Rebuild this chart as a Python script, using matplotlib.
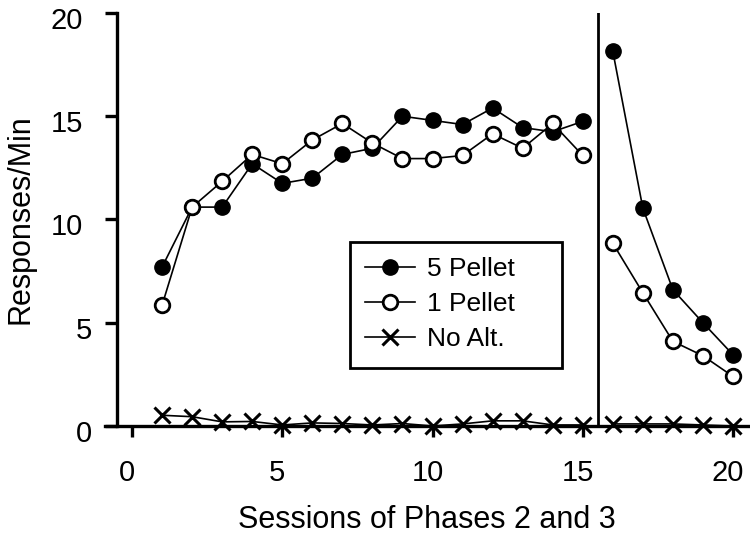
import matplotlib
matplotlib.use("Agg")
import matplotlib.pyplot as plt
from matplotlib.patches import Rectangle
from matplotlib.transforms import ScaledTranslation

plt.rcParams['font.family'] = ['Liberation Sans', 'DejaVu Sans']

# sessions
phase2 = [1, 2, 3, 4, 5, 6, 7, 8, 9, 10, 11, 12, 13, 14, 15]
phase3 = [16, 17, 18, 19, 20]

# responses/min
five_p2 = [7.7, 10.6, 10.6, 12.7, 11.75, 12.0, 13.15, 13.45, 15.0, 14.8, 14.6, 15.4, 14.45, 14.25, 14.75]
five_p3 = [18.15, 10.55, 6.6, 5.0, 3.45]
one_p2 = [5.85, 10.6, 11.85, 13.15, 12.7, 13.85, 14.65, 13.7, 12.95, 12.95, 13.1, 14.15, 13.45, 14.65, 13.1]
one_p3 = [8.85, 6.45, 4.1, 3.4, 2.4]
noalt_p2 = [0.52, 0.45, 0.2, 0.22, 0.05, 0.15, 0.12, 0.05, 0.12, 0.0, 0.1, 0.25, 0.25, 0.05, 0.05]
noalt_p3 = [0.1, 0.1, 0.1, 0.05, 0.0]

fig = plt.figure(figsize=(7.5, 5.34), dpi=100)
ax = fig.add_axes([105/750, 1-426/534, (748-105)/750, (426-13)/534])

lw = 1.2
for xs, ys, lab in [(phase2, five_p2, '5 Pellet'), (phase3, five_p3, None)]:
    ax.plot(xs, ys, color='black', lw=lw, marker='o', ms=11, mfc='black', mec='black', label=lab, clip_on=False)
for xs, ys, lab in [(phase2, one_p2, '1 Pellet'), (phase3, one_p3, None)]:
    ax.plot(xs, ys, color='black', lw=lw, marker='o', ms=10.5, mfc='white', mec='black', mew=2, label=lab, clip_on=False)
for xs, ys, lab in [(phase2, noalt_p2, 'No Alt.'), (phase3, noalt_p3, None)]:
    ax.plot(xs, ys, color='black', lw=lw, marker='x', ms=11.5, mew=2.2, label=lab, clip_on=False)

# phase change line
ax.axvline(15.5, color='black', lw=2)

ax.set_xlim(-0.9, 20.5)
ax.set_ylim(0, 20)
ax.set_xticks([0, 5, 10, 15, 20])
ax.set_yticks([0, 5, 10, 15, 20])
ax.spines['top'].set_visible(False)
ax.spines['right'].set_visible(False)
ax.spines['left'].set_position(('data', -0.5))
ax.spines['left'].set_linewidth(2.4)
ax.spines['bottom'].set_linewidth(2.4)
ax.tick_params(width=2.4, labelsize=21)
ax.tick_params(axis='x', length=8, pad=16)
ax.tick_params(axis='y', length=8.6, pad=9.4)

# small nudges of the tick labels, like the original
for lab in ax.get_xticklabels():
    lab.set_transform(lab.get_transform() + ScaledTranslation(-0.05, 0, fig.dpi_scale_trans))
for lab in ax.get_yticklabels():
    dx = -0.09 if len(lab.get_text()) > 1 else 0
    lab.set_transform(lab.get_transform() + ScaledTranslation(dx, -0.05, fig.dpi_scale_trans))

ax.set_xlabel('Sessions of Phases 2 and 3', fontsize=22, labelpad=13)
ax.set_ylabel('Responses/Min', fontsize=22, labelpad=11)

leg = ax.legend(loc='upper left', bbox_to_anchor=((365-105)/643, (426-257)/413),
                fontsize=19, frameon=False, handlelength=1.9, handletextpad=0.45,
                borderpad=0, labelspacing=0.42, borderaxespad=0)
box = Rectangle(((350-105)/643, (426-368)/413), (562-350)/643, (368-242)/413,
                transform=ax.transAxes, fill=False, lw=2, ec='black', clip_on=False)
ax.add_patch(box)

fig.savefig('out.png', dpi=100)
